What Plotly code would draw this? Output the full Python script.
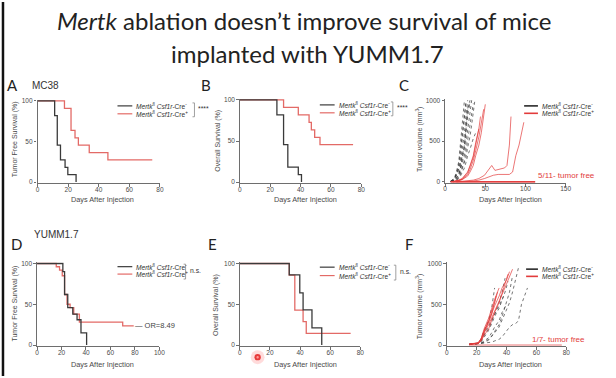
import plotly.graph_objects as go

W, H = 616, 378

# ---------------- data ----------------
# A: MC38 tumor free survival (%)
A_neg_days = [0, 11.2, 12.9, 15.0, 18.0, 19.8, 25.2]
A_neg_surv = [100, 81.8, 45.5, 27.3, 18.2, 9.1, 0]
A_pos_days = [0, 17.6, 21.9, 24.5, 26.7, 33.8, 46.0, 75.0]
A_pos_surv = [100, 90.9, 63.6, 54.5, 45.5, 36.4, 27.3, 27.3]

# B: MC38 overall survival (%)
B_neg_days = [0, 24.4, 28.8, 31.6, 38.5, 40.6]
B_neg_surv = [100, 81.8, 45.5, 18.2, 9.1, 0]
B_pos_days = [0, 28.8, 38.5, 45.6, 47.1, 49.3, 52.8, 74.6]
B_pos_surv = [100, 90.9, 81.8, 72.7, 63.6, 54.5, 45.5, 45.5]

# D: YUMM1.7 tumor free survival (%)
D_neg_days = [0, 21.1, 22.5, 25.1, 29.2, 32.7, 35.9, 40.5]
D_neg_surv = [100, 90, 62, 46, 38, 31, 15, 0]
D_pos_days = [0, 15.7, 18.4, 20.6, 22.5, 24.5, 27.0, 30.0, 34.6, 70.0, 79.0]
D_pos_surv = [100, 96, 92, 85, 62, 50, 46, 38, 28, 23.5, 23.5]

# E: YUMM1.7 overall survival (%)
E_neg_days = [0, 32.8, 39.8, 42.0, 47.9, 54.4]
E_neg_surv = [100, 86, 64, 43, 21, 0]
E_pos_days = [0, 32.8, 36.5, 42.0, 44.1, 73.6]
E_pos_surv = [100, 85.7, 42.9, 28.6, 14.3, 14.3]

# C: MC38 tumor volume (mm3), one list per mouse
C_neg_days = [
    [7, 10, 12, 14, 17, 19, 21, 24],
    [7, 10, 12, 14, 17, 19, 21, 24, 26],
    [7, 10, 12, 14, 17, 19, 21, 24, 26, 28],
    [7, 10, 12, 14, 17, 19, 21, 24, 26, 28, 31],
    [7, 10, 12, 14, 17, 19, 21, 24, 26, 28, 31, 33],
    [7, 10, 12, 14, 17, 19, 21, 24, 26, 28, 31],
    [7, 10, 12, 14, 17, 19, 21, 24, 26, 28, 31, 33, 35],
    [7, 10, 12, 14, 17, 19, 21, 24, 26, 28, 31, 33, 35, 37],
    [7, 10, 12, 14, 17, 19, 21, 24, 26, 28, 31, 33, 35, 38],
    [7, 10, 12, 14, 17, 19, 21, 24, 26],
    [7, 10, 12, 14, 17, 19, 21, 24, 26, 28, 31],
]
C_neg_vols = [
    [10, 30, 60, 120, 250, 450, 700, 1000],
    [5, 20, 40, 90, 180, 300, 520, 800, 990],
    [8, 15, 35, 70, 140, 230, 380, 600, 820, 1000],
    [5, 12, 25, 50, 100, 170, 260, 420, 600, 800, 980],
    [3, 10, 20, 40, 80, 150, 230, 330, 480, 640, 850, 1000],
    [10, 25, 50, 90, 160, 220, 300, 450, 650, 880, 990],
    [3, 8, 15, 30, 60, 110, 180, 260, 380, 520, 700, 850, 960],
    [2, 5, 12, 25, 50, 90, 150, 220, 300, 420, 560, 700, 850, 1000],
    [2, 5, 10, 20, 40, 70, 110, 170, 240, 320, 400, 480, 530, 600],
    [6, 18, 45, 100, 220, 380, 600, 850, 980],
    [4, 10, 20, 45, 90, 160, 280, 450, 700, 900, 1000],
]
C_pos_days = [
    [10, 14, 17, 21, 24, 28, 31, 35, 38, 42, 45, 48],
    [10, 14, 17, 21, 24, 28, 31, 35, 38, 42, 45, 48, 50],
    [10, 14, 17, 21, 24, 28, 31, 35, 38, 42, 44],
    [10, 14, 17, 21, 24, 28, 31, 35, 38, 42],
    [14, 21, 28, 35, 42, 49, 52, 56, 58, 62, 66, 70, 74, 77, 80, 82],
    [14, 21, 28, 35, 42, 49, 56, 60, 66, 70, 75, 80, 84, 86, 88, 92, 95, 98],
    [7, 28, 56, 84, 112],
    [7, 28, 56, 84, 112],
    [7, 28, 56, 84, 112],
    [7, 28, 56, 84, 112],
    [7, 28, 56, 84, 112],
]
C_pos_vols = [
    [0, 10, 20, 30, 50, 90, 150, 260, 380, 550, 720, 890],
    [0, 5, 15, 25, 40, 70, 120, 200, 320, 450, 600, 780, 950],
    [5, 10, 20, 40, 70, 120, 200, 320, 480, 650, 800],
    [3, 8, 15, 30, 60, 110, 190, 300, 450, 650],
    [0, 5, 10, 20, 40, 80, 120, 170, 200, 140, 150, 160, 170, 200, 450, 800],
    [0, 0, 5, 10, 20, 40, 70, 80, 90, 90, 95, 90, 120, 250, 320, 450, 600, 730],
    [0, 0, 0, 0, 0],
    [0, 0, 0, 0, 0],
    [0, 0, 0, 0, 0],
    [0, 0, 0, 0, 0],
    [0, 0, 0, 0, 0],
]

# F: YUMM1.7 tumor volume (mm3)
F_neg_days = [
    [15, 18, 21, 23, 25, 28, 30, 32],
    [15, 18, 21, 23, 25, 28, 30, 32, 35, 37, 39],
    [15, 18, 21, 23, 25, 28, 30, 32, 35, 37, 39, 42, 44, 46, 48],
    [15, 18, 21, 23, 25, 28, 30, 32, 35, 37, 39, 42, 44, 46, 48, 50, 52, 54],
    [15, 18, 21, 23, 25, 28, 30, 32, 35, 37, 39, 41],
    [15, 18, 21, 23, 25, 28, 30, 32, 35, 38],
    [15, 18, 21, 23, 25, 28, 30, 32, 35, 37, 40],
    [15, 18, 21, 23, 25, 28, 30, 32, 35, 37, 39, 42, 44],
]
F_neg_vols = [
    [10, 15, 20, 80, 180, 300, 450, 700],
    [10, 15, 20, 50, 120, 200, 280, 380, 520, 650, 820],
    [5, 10, 15, 20, 30, 60, 100, 150, 220, 300, 400, 520, 650, 800, 950],
    [5, 10, 12, 15, 20, 25, 35, 50, 70, 100, 150, 220, 250, 260, 300, 500, 600, 700],
    [8, 12, 18, 40, 100, 180, 260, 350, 450, 550, 650, 780],
    [10, 15, 25, 60, 130, 220, 300, 380, 480, 600],
    [5, 10, 15, 25, 50, 90, 150, 220, 300, 400, 500],
    [5, 10, 15, 20, 40, 70, 110, 160, 250, 350, 480, 650, 850],
]
F_pos_days = [
    [15, 18, 21, 23, 25, 28, 30, 32, 35, 37, 40, 42, 44],
    [15, 18, 21, 23, 25, 28, 30, 32, 35, 37, 40, 42],
    [15, 18, 21, 23, 25, 28, 30, 32, 35, 37, 39, 41],
    [15, 18, 21, 23, 25, 28, 30, 32, 35],
    [15, 18, 21, 23, 25, 28, 30, 32, 34],
    [15, 18, 21, 23, 25, 28, 30, 33],
    [15, 30, 45, 60, 77],
]
F_pos_vols = [
    [10, 15, 20, 60, 150, 250, 330, 420, 520, 620, 750, 850, 930],
    [10, 20, 30, 80, 170, 280, 380, 480, 600, 700, 800, 900],
    [8, 12, 20, 50, 120, 200, 300, 400, 520, 630, 750, 870],
    [10, 15, 25, 80, 200, 330, 450, 560, 700],
    [10, 15, 20, 70, 180, 300, 400, 520, 650],
    [10, 15, 20, 60, 150, 280, 380, 600],
    [0, 0, 0, 0, 0],
]

SURV_TICKS = [0, 50, 100]
VOL_TICKS = [0, 500, 1000]

# ---------------- styling ----------------
BLK = "#3a3a3a"
RED_S = "#e36a66"
BLK_G = "#3a3a3a"
RED_G = "#e23b3b"
AXC = "#6e6e6e"
TXT = "#4a4a4a"
SANS = "Liberation Sans, Arial, sans-serif"

fig = go.Figure()


def xdom(p0, p1, v0, v1, r0, r1):
    k = (p1 - p0) / (v1 - v0)
    return [(p0 + (r0 - v0) * k) / W, (p0 + (r1 - v0) * k) / W]


def ydom(p0, p1, v0, v1, r0, r1):
    k = (p1 - p0) / (v1 - v0)
    a = p0 + (r0 - v0) * k
    b = p0 + (r1 - v0) * k
    return [1 - a / H, 1 - b / H]


panels = [
    ("1", (36, 160), (0, 80), [0, 80], [0, 20, 40, 60, 80], (182, 100), (0, 100), [-1.5, 101.5], SURV_TICKS),
    ("2", (241, 364), (0, 80), [0, 80], [0, 20, 40, 60, 80], (182, 99), (0, 100), [-1.5, 101.5], SURV_TICKS),
    ("3", (449, 571), (0, 150), [0, 150], [0, 50, 100, 150], (181.7, 99.3), (0, 1000), [-15, 1015], VOL_TICKS),
    ("4", (35.5, 159.5), (0, 100), [0, 100], [0, 20, 40, 60, 80, 100], (346.7, 264.3), (0, 100), [-1.5, 101.5], SURV_TICKS),
    ("5", (241, 363), (0, 80), [0, 80], [0, 20, 40, 60, 80], (346.7, 264.3), (0, 100), [-1.5, 101.5], SURV_TICKS),
    ("6", (450.7, 571.7), (0, 80), [0, 80], [0, 20, 40, 60, 80], (346.7, 264.3), (0, 1000), [-15, 1015], VOL_TICKS),
]

layout = {}
for n, xp, xv, xr, xt, yp, yv, yr, yt in panels:
    common = dict(showline=True, linecolor=AXC, linewidth=1.3, ticks="outside", ticklen=2.5,
                  tickwidth=1, tickcolor=AXC, showgrid=False, zeroline=False,
                  tickfont=dict(family=SANS, size=6.5, color=TXT), fixedrange=True)
    xk = "xaxis" if n == "1" else "xaxis" + n
    yk = "yaxis" if n == "1" else "yaxis" + n
    layout[xk] = dict(common, domain=xdom(xp[0], xp[1], xv[0], xv[1], xr[0], xr[1]), range=xr,
                      tickvals=xt, anchor="y" if n == "1" else "y" + n, ticklabelstandoff=-3)
    layout[yk] = dict(common, domain=ydom(yp[0], yp[1], yv[0], yv[1], yr[0], yr[1]), range=yr,
                      tickvals=yt, anchor="x" if n == "1" else "x" + n)


def ax(n):
    return ("x" if n == "1" else "x" + n), ("y" if n == "1" else "y" + n)


def surv(n, t_neg, s_neg, t_pos, s_pos):
    xa, ya = ax(n)
    fig.add_trace(go.Scatter(x=t_pos, y=s_pos, mode="lines", line=dict(shape="hv", color=RED_S, width=1.3),
                             xaxis=xa, yaxis=ya, showlegend=False, hoverinfo="skip"))
    fig.add_trace(go.Scatter(x=t_neg, y=s_neg, mode="lines", line=dict(shape="hv", color=BLK, width=1.3),
                             xaxis=xa, yaxis=ya, showlegend=False, hoverinfo="skip"))


def growth(n, dn, vn, dp, vp):
    xa, ya = ax(n)
    for d, v in zip(dn, vn):
        fig.add_trace(go.Scatter(x=d, y=v, mode="lines", line=dict(color=BLK_G, width=0.7, dash="dot"),
                                 xaxis=xa, yaxis=ya, showlegend=False, hoverinfo="skip"))
    for d, v in zip(dp, vp):
        fig.add_trace(go.Scatter(x=d, y=v, mode="lines", line=dict(color=RED_G, width=0.7),
                                 xaxis=xa, yaxis=ya, showlegend=False, hoverinfo="skip"))


surv("1", A_neg_days, A_neg_surv, A_pos_days, A_pos_surv)
surv("2", B_neg_days, B_neg_surv, B_pos_days, B_pos_surv)
growth("3", C_neg_days, C_neg_vols, C_pos_days, C_pos_vols)
surv("4", D_neg_days, D_neg_surv, D_pos_days, D_pos_surv)
surv("5", E_neg_days, E_neg_surv, E_pos_days, E_pos_surv)
growth("6", F_neg_days, F_neg_vols, F_pos_days, F_pos_vols)

# ---------------- annotations & shapes ----------------
ann = []
shapes = []


def T(x, y, text, size, color=TXT, xanchor="center", family=SANS, angle=0):
    ann.append(dict(x=x / W, y=1 - y / H, xref="paper", yref="paper", text=text, showarrow=False,
                    xanchor=xanchor, yanchor="middle", textangle=angle,
                    font=dict(size=size, color=color, family=family)))


def L(x0, y0, x1, y1, color, width):
    shapes.append(dict(type="line", xref="paper", yref="paper", x0=x0 / W, x1=x1 / W,
                       y0=1 - y0 / H, y1=1 - y1 / H, line=dict(color=color, width=width)))


TITLE_FONT = "Lato, Open Sans, sans-serif"
T(306, 19, "<i>Mertk</i> ablation doesn\u2019t improve survival of mice", 24, "#222", family=TITLE_FONT)
T(310, 52, "implanted with YUMM1.7", 24, "#222", family=TITLE_FONT)

# panel letters
for lab, x, y in [("A", 3, 84), ("B", 200, 84), ("C", 400, 84), ("D", 7, 245), ("E", 207, 245), ("F", 406, 245)]:
    T(x, y, lab, 15, "#222", xanchor="left", family=TITLE_FONT)
T(28, 84, "MC38", 10, "#333", xanchor="left", family=SANS)
T(30, 235, "YUMM1.7", 10, "#333", xanchor="left", family=SANS)

# axis titles
for x, y in [(102, 200), (307, 200), (515, 200), (102, 366), (307, 366), (515, 366)]:
    T(x, y, "Days After Injection", 7.3, TXT)
T(13, 139, "Tumor Free Survival (%)", 7, TXT, angle=-90)
T(218, 140, "Overall Survival (%)", 7, TXT, angle=-90)
T(423, 139, "Tumor volume (mm<sup>3</sup>)", 7, TXT, angle=-90)
T(13, 305, "Tumor Free Survival (%)", 7, TXT, angle=-90)
T(217, 306, "Overall Survival (%)", 7, TXT, angle=-90)
T(423, 308, "Tumor volume (mm<sup>3</sup>)", 7, TXT, angle=-90)

# legends
NEG = "<i>Mertk</i><sup>fl</sup> <i>Csf1r</i>-Cre<sup>-</sup>"
POS = "<i>Mertk</i><sup>fl</sup> <i>Csf1r</i>-Cre<sup>+</sup>"
for lx0, lx1, y1, y2, cb, cr, lw in [(117, 132, 105, 113, BLK, RED_S, 1.2), (322, 337, 104, 112, BLK, RED_S, 1.2),
                                     (529, 543, 105, 112.5, "#2a2a2a", RED_G, 1.6), (117, 132, 267.5, 275, BLK, RED_S, 1.2),
                                     (322, 337, 268, 276.5, BLK, RED_S, 1.2), (531, 543, 270, 277.3, "#2a2a2a", RED_G, 1.6)]:
    L(lx0, y1, lx1, y1, cb, lw)
    L(lx0, y2, lx1, y2, cr, lw)
    T(lx1 + 2, y1, NEG, 6.6, "#333", xanchor="left")
    T(lx1 + 2, y2, POS, 6.6, "#333", xanchor="left")

# significance brackets
for bx, by0, by1, lab in [(195, 102, 116, "****"), (396, 101, 115, "****"),
                          (186, 265, 280, "n.s."), (399, 266, 281, "n.s.")]:
    shapes.append(dict(type="path", xref="paper", yref="paper",
                       path=f"M {(bx - 2) / W},{1 - by0 / H} L {bx / W},{1 - by0 / H} L {bx / W},{1 - by1 / H} L {(bx - 2) / W},{1 - by1 / H}",
                       line=dict(color="#888", width=0.8)))
    T(bx + 2, (by0 + by1) / 2 - 1, lab, 6.8, "#333", xanchor="left")

# in-plot notes
T(603, 175, "5/11- tumor free", 8, RED_G, xanchor="right")
T(593, 341, "1/7- tumor free", 8, RED_G, xanchor="right")
T(133, 327.3, "\u2014 OR=8.49", 7.5, "#444", xanchor="left")

# left frame edge
L(1, 0, 1, 378, "#111", 2.5)

# laser pointer dot
for r, col in [(7, "rgba(255,90,90,0.22)"), (3.2, "#e83a3a"), (1.2, "#ff9a9a")]:
    shapes.append(dict(type="circle", xref="paper", yref="paper", x0=(259 - r) / W, x1=(259 + r) / W,
                       y0=1 - (359 + r) / H, y1=1 - (359 - r) / H, line=dict(width=0), fillcolor=col))

fig.update_layout(width=W, height=H, margin=dict(l=0, r=0, t=0, b=0), paper_bgcolor="white",
                  plot_bgcolor="white", annotations=ann, shapes=shapes, showlegend=False, **layout)

fig.write_html("out.html", config={"displayModeBar": False},
               post_script="document.body.style.margin='0px';document.body.style.overflow='hidden';")
